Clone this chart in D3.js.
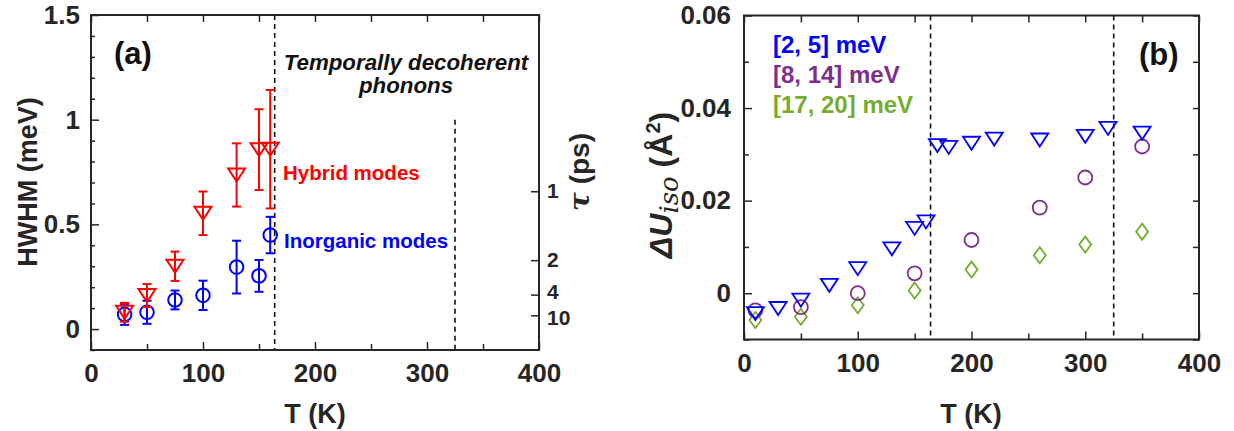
<!DOCTYPE html>
<html>
<head>
<meta charset="utf-8">
<script src="https://cdn.jsdelivr.net/npm/d3@7"></script>
<style>
  html, body { margin: 0; padding: 0; background: #fff; }
  svg { display: block; font-family: "Liberation Sans", Arial, sans-serif; }
  .tick text { font-weight: bold; }
</style>
</head>
<body>
<svg id="fig" width="1234" height="431"></svg>
<script>
// ---- Panel (a): phonon linewidths ----
const tempHybrid = [30, 50, 75, 100, 130, 150, 160];
const hwhmHybrid = [0.08, 0.16, 0.30, 0.553, 0.736, 0.857, 0.859];
const errHybrid  = [0.045, 0.055, 0.07, 0.104, 0.151, 0.193, 0.283];

const tempInorg = [30, 50, 75, 100, 130, 150, 160];
const hwhmInorg = [0.07, 0.08, 0.139, 0.161, 0.296, 0.254, 0.449];
const errInorg  = [0.05, 0.055, 0.045, 0.07, 0.126, 0.076, 0.087];

const hwhmMajorTicks = [0, 0.5, 1, 1.5];
const tauTicks = [1, 2, 4, 10];          // lifetime in ps
const HBAR = 0.6582;                      // meV·ps
const tempTicks = [0, 100, 200, 300, 400];
const transitionTemps = [164, 325];

// ---- Panel (b): isotropic displacement change ----
const tempLow = [10, 30, 50, 75, 100, 130, 150, 160, 170, 180, 200, 220, 260, 300, 320, 350];
const dULow   = [-0.0044, -0.0033, -0.0015, 0.0017, 0.0053, 0.0096, 0.014, 0.0154,
                 0.0319, 0.0315, 0.0324, 0.0333, 0.0331, 0.0339, 0.0356, 0.0346];
const tempMid = [10, 50, 100, 150, 200, 260, 300, 350];
const dUMid   = [-0.0037, -0.003, 0.0, 0.0043, 0.0115, 0.0185, 0.025, 0.0317];
const tempHigh = [10, 50, 100, 150, 200, 260, 300, 350];
const dUHigh   = [-0.0058, -0.0051, -0.0026, 0.0006, 0.0051, 0.0082, 0.0105, 0.0133];
const dUMajorTicks = [0, 0.02, 0.04, 0.06];
const bandLabels = ["[2, 5] meV", "[8, 14] meV", "[17, 20] meV"];

const INK = "#262626";
const BLUE = "#0000ff", RED = "#ff0000", PURPLE = "#7e2f8e", GREEN = "#77ac30";
const TICK_FONT = 26;

const svg = d3.select("#fig");
svg.append("rect").attr("width", 1234).attr("height", 431).attr("fill", "#fff");

function range(a, b, step) {
  const out = [];
  for (let v = a; v <= b + 1e-9; v += step) out.push(+v.toFixed(6));
  return out;
}
function styleAxis(g) {
  g.select(".domain").remove();
  g.selectAll("line").attr("stroke", INK).attr("stroke-width", 1.5);
  g.selectAll("text").attr("fill", INK).attr("font-size", TICK_FONT).attr("font-weight", "bold");
}
function frame(x, y) {
  const [x0, x1] = x.range(), [y0, y1] = y.range();
  svg.append("rect").attr("x", x0).attr("y", y1).attr("width", x1 - x0).attr("height", y0 - y1)
    .attr("fill", "none").attr("stroke", INK).attr("stroke-width", 2);
}
function triDown(cx, cy, w, h) {
  return `M${cx - w / 2},${cy - h / 2}L${cx + w / 2},${cy - h / 2}L${cx},${cy + h / 2}Z`;
}
function diamond(cx, cy, w, h) {
  return `M${cx},${cy - h / 2}L${cx + w / 2},${cy}L${cx},${cy + h / 2}L${cx - w / 2},${cy}Z`;
}
function xAxes(x, y, minor) {
  const [y0, y1] = y.range();
  const gb = svg.append("g").attr("transform", `translate(0,${y0})`)
    .call(d3.axisBottom(x).tickValues(tempTicks).tickSizeInner(-8).tickSizeOuter(0).tickPadding(14)
      .tickFormat(d3.format("d")));
  styleAxis(gb);
  const gm = svg.append("g").attr("transform", `translate(0,${y0})`)
    .call(d3.axisBottom(x).tickValues(minor).tickSizeInner(-6).tickSizeOuter(0).tickFormat(""));
  styleAxis(gm);
  const gt = svg.append("g").attr("transform", `translate(0,${y1})`)
    .call(d3.axisTop(x).tickValues(tempTicks.concat(minor)).tickSizeInner(-7).tickSizeOuter(0).tickFormat(""));
  styleAxis(gt);
}

// ================= Panel (a) =================
const xA = d3.scaleLinear().domain([0, 400]).range([91, 539]);
const yA = d3.scaleLinear().domain([-0.1, 1.5]).range([350, 15]);

xAxes(xA, yA, [50, 150, 250, 350]);

const gaL = svg.append("g").attr("transform", `translate(${xA.range()[0]},0)`)
  .call(d3.axisLeft(yA).tickValues(hwhmMajorTicks).tickSizeInner(-8).tickSizeOuter(0).tickPadding(11)
    .tickFormat(d => d3.format("~g")(d)));
styleAxis(gaL);
const gaLm = svg.append("g").attr("transform", `translate(${xA.range()[0]},0)`)
  .call(d3.axisLeft(yA).tickValues(range(-0.1, 1.5, 0.1).filter(v => !hwhmMajorTicks.some(m => Math.abs(m - v) < 1e-6)))
    .tickSizeInner(-4).tickSizeOuter(0).tickFormat(""));
styleAxis(gaLm);

// lifetime axis: tau = hbar / HWHM
const gaR = svg.append("g").attr("transform", `translate(${xA.range()[1]},0)`)
  .call(d3.axisRight(yA).tickValues(tauTicks.map(t => HBAR / t)).tickSizeInner(-8).tickSizeOuter(0).tickPadding(8)
    .tickFormat(d => Math.round(HBAR / d)));
styleAxis(gaR);
// the 4 ps and 10 ps labels sit close together; spread them slightly
gaR.selectAll("text").attr("font-size", 21)
  .attr("dy", d => { const t = Math.round(HBAR / d); return t === 4 ? "0.2em" : t === 10 ? "0.42em" : "0.32em"; });

frame(xA, yA);

// transition markers
svg.append("line").attr("x1", xA(transitionTemps[0])).attr("x2", xA(transitionTemps[0]))
  .attr("y1", yA(1.5)).attr("y2", yA(-0.1))
  .attr("stroke", "#111").attr("stroke-width", 1.6).attr("stroke-dasharray", "5,4");
svg.append("line").attr("x1", xA(transitionTemps[1])).attr("x2", xA(transitionTemps[1]))
  .attr("y1", yA(1.0)).attr("y2", yA(-0.1))
  .attr("stroke", "#111").attr("stroke-width", 1.6).attr("stroke-dasharray", "5,4");

function errorSeries(ts, vs, es, color, marker) {
  const g = svg.append("g");
  ts.forEach((t, i) => {
    const cx = xA(t), top = yA(vs[i] + es[i]), bot = yA(vs[i] - es[i]);
    g.append("line").attr("x1", cx).attr("x2", cx).attr("y1", top).attr("y2", bot)
      .attr("stroke", color).attr("stroke-width", 2);
    [top, bot].forEach(yy => g.append("line").attr("x1", cx - 4.5).attr("x2", cx + 4.5)
      .attr("y1", yy).attr("y2", yy).attr("stroke", color).attr("stroke-width", 2));
    if (marker === "tri") {
      g.append("path").attr("d", triDown(cx, yA(vs[i]), 17, 13))
        .attr("fill", "none").attr("stroke", color).attr("stroke-width", 2);
    } else {
      g.append("circle").attr("cx", cx).attr("cy", yA(vs[i])).attr("r", 6.8)
        .attr("fill", "none").attr("stroke", color).attr("stroke-width", 2);
    }
  });
}
errorSeries(tempInorg, hwhmInorg, errInorg, BLUE, "circ");
errorSeries(tempHybrid, hwhmHybrid, errHybrid, RED, "tri");

// annotations (a)
svg.append("text").attr("x", 114).attr("y", 64).attr("font-size", 31).attr("font-weight", "bold")
  .attr("fill", "#111").text("(a)");
const note = svg.append("text").attr("font-size", 22.3).attr("font-weight", "bold")
  .attr("font-style", "italic").attr("fill", "#111").attr("text-anchor", "middle");
note.append("tspan").attr("x", 406).attr("y", 70).text("Temporally decoherent");
note.append("tspan").attr("x", 406).attr("y", 93).text("phonons");
svg.append("text").attr("x", 283).attr("y", 180).attr("font-size", 20.5).attr("font-weight", "bold")
  .attr("fill", RED).text("Hybrid modes");
svg.append("text").attr("x", 284).attr("y", 248).attr("font-size", 20.5).attr("font-weight", "bold")
  .attr("fill", BLUE).text("Inorganic modes");

svg.append("text").attr("transform", "translate(37,182) rotate(-90)").attr("text-anchor", "middle")
  .attr("font-size", 27).attr("font-weight", "bold").attr("fill", INK).text("HWHM (meV)");
const tauLab = svg.append("text").attr("transform", "translate(589,172) rotate(-90)").attr("text-anchor", "middle")
  .attr("font-size", 28).attr("font-weight", "bold").attr("fill", INK);
tauLab.append("tspan").attr("font-style", "italic").attr("font-family", "'DejaVu Serif', serif").text("τ");
tauLab.append("tspan").text(" (ps)");
svg.append("text").attr("x", 315).attr("y", 423).attr("text-anchor", "middle")
  .attr("font-size", 27).attr("font-weight", "bold").attr("fill", INK).text("T (K)");

// ================= Panel (b) =================
const xB = d3.scaleLinear().domain([0, 400]).range([744, 1199]);
const yB = d3.scaleLinear().domain([-0.01, 0.06]).range([339.5, 15.5]);

xAxes(xB, yB, [50, 150, 250, 350]);

const gbL = svg.append("g").attr("transform", `translate(${xB.range()[0]},0)`)
  .call(d3.axisLeft(yB).tickValues(dUMajorTicks).tickSizeInner(-8).tickSizeOuter(0).tickPadding(13)
    .tickFormat(d => d === 0 ? "0" : d3.format(".2f")(d)));
styleAxis(gbL);
const gbLm = svg.append("g").attr("transform", `translate(${xB.range()[0]},0)`)
  .call(d3.axisLeft(yB).tickValues([-0.01, 0.01, 0.03, 0.05]).tickSizeInner(-5).tickSizeOuter(0).tickFormat(""));
styleAxis(gbLm);
const gbR = svg.append("g").attr("transform", `translate(${xB.range()[1]},0)`)
  .call(d3.axisRight(yB).tickValues(range(-0.01, 0.06, 0.01)).tickSizeInner(-6).tickSizeOuter(0).tickFormat(""));
styleAxis(gbR);

frame(xB, yB);

transitionTemps.forEach(t => {
  svg.append("line").attr("x1", xB(t)).attr("x2", xB(t)).attr("y1", yB(0.06)).attr("y2", yB(-0.01))
    .attr("stroke", "#111").attr("stroke-width", 1.6).attr("stroke-dasharray", "5,4");
});

const gHigh = svg.append("g");
tempHigh.forEach((t, i) => gHigh.append("path").attr("d", diamond(xB(t), yB(dUHigh[i]), 12, 16))
  .attr("fill", "none").attr("stroke", GREEN).attr("stroke-width", 1.8));
const gMid = svg.append("g");
tempMid.forEach((t, i) => gMid.append("circle").attr("cx", xB(t)).attr("cy", yB(dUMid[i])).attr("r", 7)
  .attr("fill", "none").attr("stroke", PURPLE).attr("stroke-width", 1.8));
const gLow = svg.append("g");
tempLow.forEach((t, i) => gLow.append("path").attr("d", triDown(xB(t), yB(dULow[i]), 17, 13))
  .attr("fill", "none").attr("stroke", BLUE).attr("stroke-width", 1.8));

[BLUE, PURPLE, GREEN].forEach((c, i) => {
  svg.append("text").attr("x", 773).attr("y", 53 + i * 30).attr("font-size", 24).attr("font-weight", "bold")
    .attr("fill", c).text(bandLabels[i]);
});
svg.append("text").attr("x", 1139).attr("y", 65).attr("font-size", 31).attr("font-weight", "bold")
  .attr("fill", "#111").text("(b)");

const uLab = svg.append("text").attr("transform", "translate(672,185) rotate(-90)").attr("text-anchor", "middle")
  .attr("font-size", 32).attr("font-weight", "bold").attr("fill", INK);
uLab.append("tspan").attr("font-style", "italic").text("ΔU");
uLab.append("tspan").attr("font-style", "italic").attr("font-weight", "normal")
  .attr("font-family", "'DejaVu Serif', serif").attr("font-size", 26).attr("dy", 6).text("iso");
uLab.append("tspan").attr("dy", -6).text(" (Å");
uLab.append("tspan").attr("font-size", 20).attr("dy", -12).text("2");
uLab.append("tspan").attr("dy", 12).text(")");
svg.append("text").attr("x", 971).attr("y", 423).attr("text-anchor", "middle")
  .attr("font-size", 27).attr("font-weight", "bold").attr("fill", INK).text("T (K)");
</script>
</body>
</html>
